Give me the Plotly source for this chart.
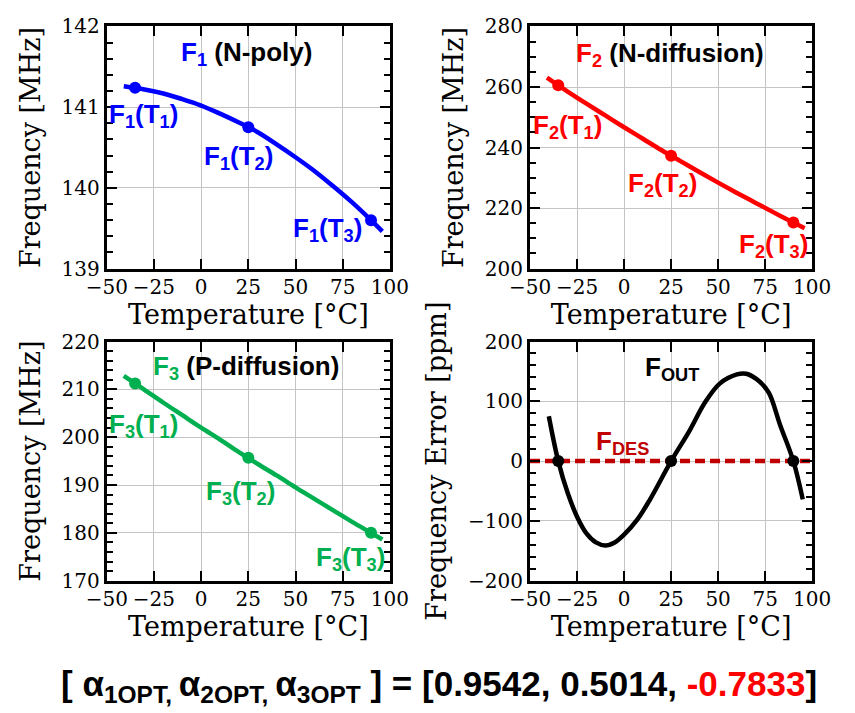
import plotly.graph_objects as go

# ---------------- data ----------------
temp_curve = [-41, -30, -20, -10, 0, 10, 20, 30, 40, 50, 60, 70, 80, 90, 96]
f1_curve = [141.26, 141.22, 141.17, 141.10, 141.02, 140.92, 140.81, 140.69,
            140.54, 140.38, 140.21, 140.02, 139.82, 139.60, 139.46]
f2_curve = [263.1, 258.5, 254.5, 250.6, 246.7, 242.9, 239.1, 235.5,
            231.9, 228.4, 225.0, 221.7, 218.4, 215.2, 213.3]
f3_curve = [212.8, 209.9, 207.2, 204.6, 202.0, 199.5, 196.9, 194.4,
            192.0, 189.5, 187.1, 184.7, 182.3, 180.0, 178.6]

t_cal = [-35, 25, 90]
f1_pts = [141.24, 140.75, 139.60]
f2_pts = [260.6, 237.3, 215.2]
f3_pts = [211.2, 195.7, 180.0]
err_pts = [0, 0, 0]

temp_err = [-40, -35, -30, -25, -20, -15, -10, -5, 0, 7, 14, 25, 35, 43,
            51, 60, 65, 72, 77, 83, 90, 95]
err_ppm = [75, 0, -53, -93, -121, -136, -141, -136, -123, -98, -63, 0, 52,
           98, 130, 145, 146, 133, 114, 60, 0, -64]

fdes_t = [-50, 100]
fdes_v = [0, 0]

alpha_opt = [0.9542, 0.5014, -0.7833]

x_ticks = [-50, -25, 0, 25, 50, 75, 100]

# ---------------- styles ----------------
BLUE = "#0000ff"
RED = "#ff0000"
GREEN = "#00b050"
DRED = "#c00000"
W, H = 855, 713

fig = go.Figure()

def curve(x, y, color, ax):
    fig.add_trace(go.Scatter(x=x, y=y, mode="lines", line=dict(color=color, width=4.5, shape="spline"),
                             xaxis="x" + ax, yaxis="y" + ax, showlegend=False, hoverinfo="skip"))

def pts(x, y, color, ax):
    fig.add_trace(go.Scatter(x=x, y=y, mode="markers", marker=dict(color=color, size=12),
                             xaxis="x" + ax, yaxis="y" + ax, showlegend=False))

curve(temp_curve, f1_curve, BLUE, "")
pts(t_cal, f1_pts, BLUE, "")
curve(temp_curve, f2_curve, RED, "2")
pts(t_cal, f2_pts, RED, "2")
curve(temp_curve, f3_curve, GREEN, "3")
pts(t_cal, f3_pts, GREEN, "3")
fig.add_trace(go.Scatter(x=fdes_t, y=fdes_v, mode="lines", line=dict(color=DRED, width=4.5, dash="10px,5px"),
                         xaxis="x4", yaxis="y4", showlegend=False, hoverinfo="skip"))
curve(temp_err, err_ppm, "black", "4")
pts(t_cal, err_pts, "black", "4")

xd_left = [90 / W, 387 / W]
xd_right = [534 / W, 830 / W]
yd_top = [1 - 265.5 / H, 1 - 15 / H]
yd_bot = [1 - 588.5 / H, 1 - 341 / H]

common = dict(showline=True, linewidth=3, linecolor="black", mirror="ticks",
              ticks="inside", ticklen=10, tickwidth=2, tickcolor="black",
              showgrid=True, gridcolor="#c4c4c4", gridwidth=1, zeroline=False,
              tickfont=dict(family="DejaVu Serif", size=20, color="black"))

TF = dict(family="DejaVu Serif", size=27, color="black")

def xax(domain, anchor):
    return dict(common, domain=domain, anchor=anchor, range=[-50, 100], tickmode="array",
                tickvals=x_ticks, ticktext=[("\u2212" + str(-v)) if v < 0 else str(v) for v in x_ticks],
                ticklabelstandoff=-2,
                title=dict(text="Temperature [\u00b0C]", standoff=0, font=TF))

def yax(domain, anchor, rng, dtick, mdtick, title):
    return dict(common, domain=domain, anchor=anchor, range=rng, dtick=dtick, tick0=rng[0],
                minor=dict(dtick=mdtick, tick0=rng[0], ticks="inside", ticklen=6, tickwidth=2,
                           tickcolor="black", showgrid=False),
                title=dict(text=title, standoff=14, font=TF))

fig.update_layout(
    width=W, height=H, margin=dict(l=0, r=0, t=0, b=0),
    paper_bgcolor="white", plot_bgcolor="white",
    xaxis=xax(xd_left, "y"),
    yaxis=yax(yd_top, "x", [139, 142], 1, 0.2, "Frequency [MHz]"),
    xaxis2=xax(xd_right, "y2"),
    yaxis2=yax(yd_top, "x2", [200, 280], 20, 5, "Frequency [MHz]"),
    xaxis3=xax(xd_left, "y3"),
    yaxis3=yax(yd_bot, "x3", [170, 220], 10, 2, "Frequency [MHz]"),
    xaxis4=xax(xd_right, "y4"),
    yaxis4=yax(yd_bot, "x4", [-200, 200], 100, 20, "Frequency Error [ppm]"),
)

AF = dict(family="Liberation Sans", size=26, weight="bold")

def ann(x, y, text, color, ax):
    fig.add_annotation(x=x, y=y, xref="x" + ax, yref="y" + ax, text=text, showarrow=False,
                       font=dict(AF, color=color), xanchor="center", yanchor="middle")

# top-left
ann(24.0, 141.66, f"<span style='color:{BLUE}'>F<sub>1</sub></span> (N-poly)", "black", "")
ann(-30.8, 140.90, "F<sub>1</sub>(T<sub>1</sub>)", BLUE, "")
ann(19.7, 140.38, "F<sub>1</sub>(T<sub>2</sub>)", BLUE, "")
ann(66.7, 139.48, "F<sub>1</sub>(T<sub>3</sub>)", BLUE, "")
# top-right
ann(24.5, 270.8, f"<span style='color:{RED}'>F<sub>2</sub></span> (N-diffusion)", "black", "2")
ann(-30.0, 246.9, "F<sub>2</sub>(T<sub>1</sub>)", RED, "2")
ann(20.2, 227.7, "F<sub>2</sub>(T<sub>2</sub>)", RED, "2")
ann(79.5, 207.5, "F<sub>2</sub>(T<sub>3</sub>)", RED, "2")
# bottom-left
ann(23.5, 214.5, f"<span style='color:{GREEN}'>F<sub>3</sub></span> (P-diffusion)", "black", "3")
ann(-30.8, 202.4, "F<sub>3</sub>(T<sub>1</sub>)", GREEN, "3")
ann(20.7, 188.5, "F<sub>3</sub>(T<sub>2</sub>)", GREEN, "3")
ann(79.3, 174.7, "F<sub>3</sub>(T<sub>3</sub>)", GREEN, "3")
# bottom-right
ann(25.3, 154.4, "F<sub>OUT</sub>", "black", "4")
ann(-0.6, 30.4, "F<sub>DES</sub>", DRED, "4")

a1, a2, a3 = alpha_opt
eq = ("[ \u03b1<sub>1OPT, </sub>\u03b1<sub>2OPT, </sub>\u03b1<sub>3OPT</sub> ] = "
      f"[{a1:.4f}, {a2:.4f}, <span style='color:{RED}'>{a3:.4f}</span>]")
fig.add_annotation(x=439 / W, y=1 - 697 / H, xref="paper", yref="paper", text=eq, showarrow=False,
                   font=dict(family="Liberation Sans", size=35, weight="bold", color="black"),
                   xanchor="center", yanchor="middle")

fig.write_html("out.html")
